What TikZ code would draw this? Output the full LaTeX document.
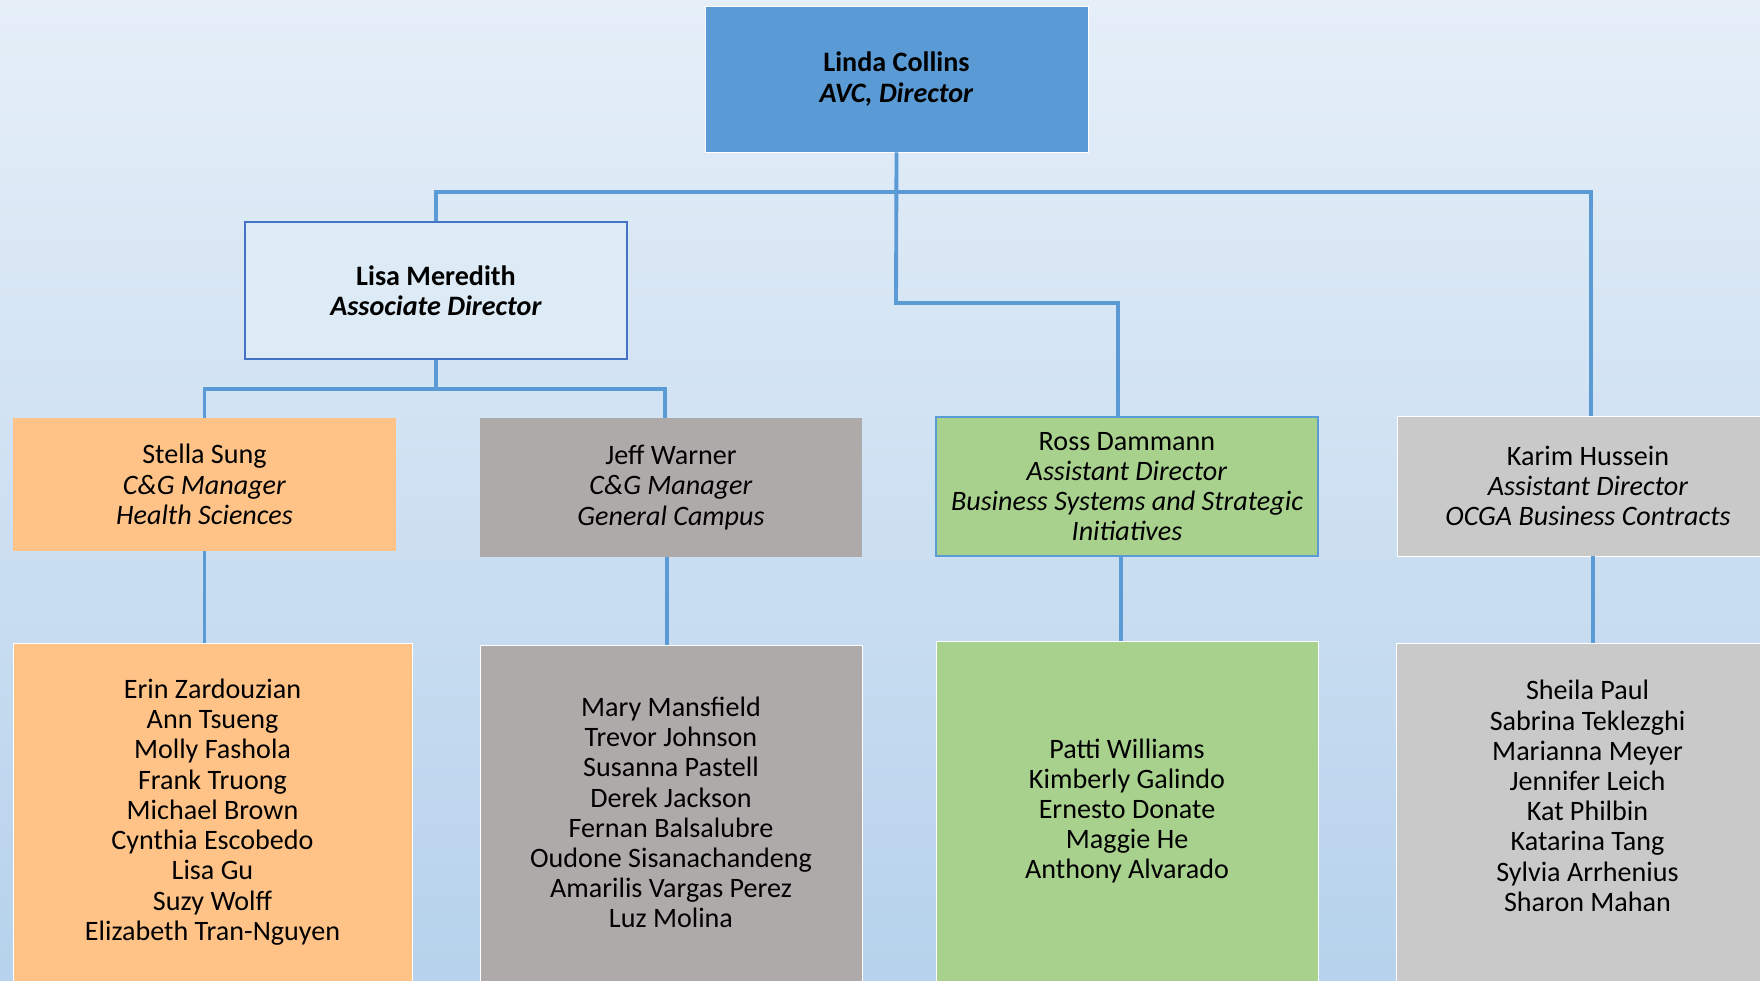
\documentclass[tikz,border=0pt]{standalone}
\usepackage{fontspec}
\setmainfont{Carlito}
\usetikzlibrary{positioning,calc}
\definecolor{bgtop}{HTML}{E6EFF8}
\definecolor{bgbottom}{HTML}{B6D2EC}
\definecolor{linkblue}{HTML}{5B9BD5}
\definecolor{darkblue}{HTML}{4472C4}
\definecolor{lightblue}{HTML}{DDEBF7}
\definecolor{peach}{HTML}{FFC388}
\definecolor{darkgray}{HTML}{AEAAAA}
\definecolor{lightgreen}{HTML}{A9D18E}
\definecolor{lightgray}{HTML}{C9C9C9}
\tikzset{
	chart/.style={x=0.02cm,y=-0.02cm},
	box/.style={rectangle,draw=white,line width=0.5pt,align=center,
		minimum width=7.64cm,font=\fontsize{16}{17.2}\selectfont},
	head/.style={box,minimum height=2.78cm},
	team/.style={box,minimum height=8cm,anchor=north},
	names/.style={align=center,font=\fontsize{16}{17.2}\selectfont},
	link/.style={draw=linkblue,line width=2.2pt}
}

\begin{document}
\begin{tikzpicture}[chart]
	\useasboundingbox (0,0) rectangle (1760,980);
	\clip (0,0) rectangle (1760,980);
	\fill[top color=bgtop,bottom color=bgbottom] (0,0) rectangle (1760,980);
	
	% heads
	\node[head,fill=linkblue,minimum width=7.66cm,minimum height=2.92cm] (linda) at (896.5,79)
		{\textbf{Linda Collins}\\\textbf{\textit{AVC, Director}}};
	\node[head,fill=lightblue,draw=darkblue,line width=1.1pt,minimum height=2.74cm] (lisa) at (436,290.5)
		{\textbf{Lisa Meredith}\\\textbf{\textit{Associate Director}}};
	\node[head,fill=peach,draw=none,minimum width=7.66cm,minimum height=2.66cm] (stella) at (204.5,484.5)
		{Stella Sung\\\textit{C\&G Manager}\\\textit{Health Sciences}};
	\node[head,fill=darkgray,draw=none] (jeff) at (671,487.5)
		{Jeff Warner\\\textit{C\&G Manager}\\\textit{General Campus}};
	\node[head,fill=lightgreen,draw=linkblue,line width=0.85pt] (ross) at (1127,486.5)
		{Ross Dammann\\\textit{Assistant Director}\\\textit{Business Systems and Strategic}\\\textit{Initiatives}};
	\node[head,fill=lightgray,minimum height=2.8cm] (karim) at (1588,486)
		{Karim Hussein\\\textit{Assistant Director}\\\textit{OCGA Business Contracts}};
	
	% teams
	\node[team,fill=peach,minimum width=7.98cm] (stellateam) at (212.5,643) {};
	\node[team,fill=darkgray] (jeffteam) at (671,645) {};
	\node[team,fill=lightgreen] (rossteam) at (1127,641) {};
	\node[team,fill=lightgray] (karimteam) at (1587.5,643) {};
	\node[names] (stellanames) at (212.5,812) {Erin Zardouzian\\Ann Tsueng\\Molly Fashola\\Frank Truong\\Michael Brown\\Cynthia Escobedo\\Lisa Gu\\Suzy Wolff\\Elizabeth Tran-Nguyen};
	\node[names] (jeffnames) at (671,812.5) {Mary Mansfield\\Trevor Johnson\\Susanna Pastell\\Derek Jackson\\Fernan Balsalubre\\Oudone Sisanachandeng\\Amarilis Vargas Perez\\Luz Molina};
	\node[names] (rossnames) at (1127,811) {Patti Williams\\Kimberly Galindo\\Ernesto Donate\\Maggie He\\Anthony Alvarado};
	\node[names] (karimnames) at (1587.5,796) {Sheila Paul\\Sabrina Teklezghi\\Marianna Meyer\\Jennifer Leich\\Kat Philbin\\Katarina Tang\\Sylvia Arrhenius\\Sharon Mahan};
	
	\coordinate (topbus) at (896,192);
	\coordinate (rossbend) at (896,303);
	\coordinate (lisabus) at (436,389);
	
	\path[link] (linda.south) -- (rossbend) -| ([xshift=-0.18cm]ross.north);
	\path[link] (lisa.north) |- (topbus) -| ([xshift=0.06cm]karim.north);
	\path[link] (lisa.south) -- (lisabus);
	\path[link] (stella.north) |- (lisabus) -| ([xshift=-0.12cm]jeff.north);
	\path[link] (stella.south) -- (stella.south |- stellateam.north);
	\path[link] ([xshift=-0.08cm]jeff.south) -- ([xshift=-0.08cm]jeff.south |- jeffteam.north);
	\path[link] ([xshift=-0.12cm]ross.south) -- ([xshift=-0.12cm]ross.south |- rossteam.north);
	\path[link] ([xshift=0.1cm]karim.south) -- ([xshift=0.1cm]karim.south |- karimteam.north);
\end{tikzpicture}
\end{document}
